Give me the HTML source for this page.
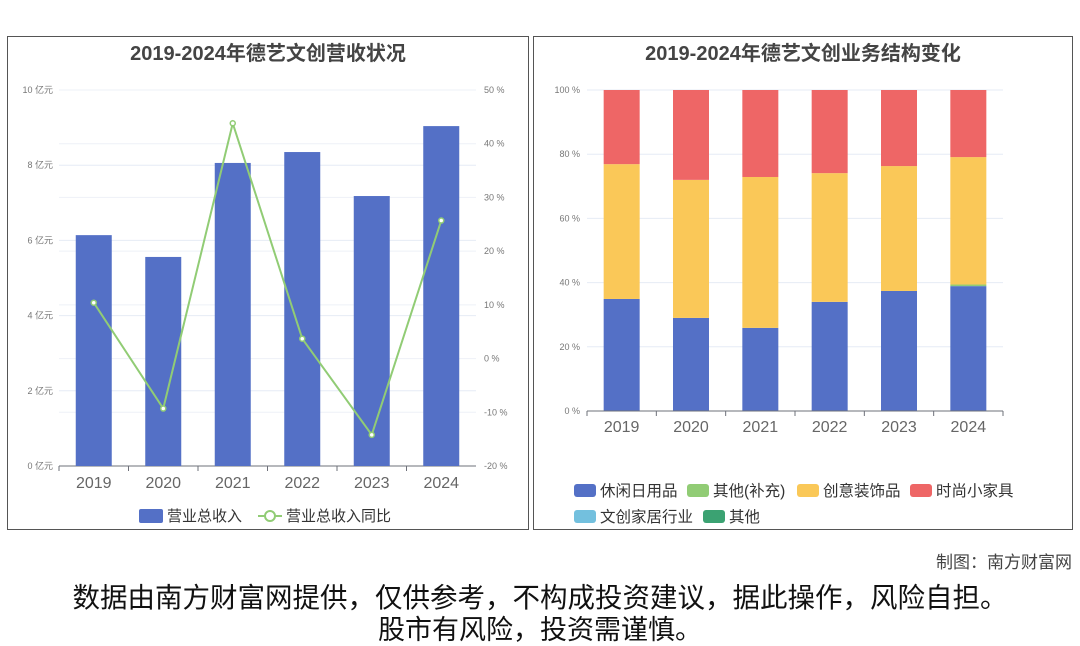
<!DOCTYPE html>
<html><head><meta charset="utf-8"><style>
body{margin:0;width:1080px;height:646px;background:#fff;overflow:hidden;font-family:"Liberation Sans","Noto Sans CJK SC",sans-serif;position:relative}
.panel{position:absolute;top:36px;height:494px;border:1px solid #555;box-sizing:border-box}
svg text{font-family:"Liberation Sans","Noto Sans CJK SC",sans-serif}
</style></head><body>
<div class="panel" style="left:7px;width:522px"></div>
<div class="panel" style="left:533px;width:540px"></div>
<svg id="c" width="1080" height="646" style="position:absolute;left:0;top:0">
<text x="268" y="60" text-anchor="middle" font-size="20" font-weight="bold" fill="#444">2019-2024年德艺文创营收状况</text>
<text x="803" y="60" text-anchor="middle" font-size="20" font-weight="bold" fill="#444">2019-2024年德艺文创业务结构变化</text>
<g id="L"></g><g id="R"></g>
<g>
<rect x="139" y="509" width="24" height="14" rx="2" fill="#5470c6"/>
<text x="167" y="521" font-size="15" fill="#333">营业总收入</text>
<line x1="258" y1="516" x2="282" y2="516" stroke="#91cc75" stroke-width="2"/><circle cx="270" cy="516" r="5" fill="#fff" stroke="#91cc75" stroke-width="2"/>
<text x="286" y="521" font-size="15" fill="#333">营业总收入同比</text>
</g>
<g id="RL"></g>
<text x="1072" y="568" text-anchor="end" font-size="17" fill="#444">制图：南方财富网</text>
<text x="540" y="607" text-anchor="middle" font-size="27.5" fill="#111">数据由南方财富网提供，仅供参考，不构成投资建议，据此操作，风险自担。</text>
<text x="540" y="639" text-anchor="middle" font-size="27" fill="#111">股市有风险，投资需谨慎。</text>
</svg>
<script>
const years=["2019","2020","2021","2022","2023","2024"];
const revenue=[6.14,5.56,8.06,8.35,7.18,9.04];
const yoy=[10.4,-9.3,43.8,3.7,-14.2,25.7];
const leftTicks=[0,2,4,6,8,10];
const rightTicks=[-20,-10,0,10,20,30,40,50];
const seriesNames=["休闲日用品","其他(补充)","创意装饰品","时尚小家具","文创家居行业","其他"];
const leisure=[34.9,29,25.9,34,37.4,38.9];
const otherSupp=[0,0,0,0,0,0.5];
const decor=[42,43,47,40.1,38.9,39.7];
const furniture=[23.1,28,27.1,25.9,23.7,20.9];
const homeInd=[0,0,0,0,0,0];
const other=[0,0,0,0,0,0];
const pctTicks=[0,20,40,60,80,100];
const colors=["#5470c6","#91cc75","#fac858","#ee6666","#73c0de","#3ba272"];
const NS="http://www.w3.org/2000/svg";
function mk(p,t,a,txt){const e=document.createElementNS(NS,t);for(const k in a)e.setAttribute(k,a[k]);if(txt!=null)e.textContent=txt;p.appendChild(e);return e;}
// left chart
const L=document.getElementById('L');
const lx0=59,lx1=476,ly0=466,ly1=90,band=(lx1-lx0)/years.length;
const yl=v=>ly0-(v/10)*(ly0-ly1);
const yr=v=>ly0-((v+20)/70)*(ly0-ly1);
const xc=i=>lx0+band*(i+0.5);
leftTicks.forEach(t=>{mk(L,'line',{x1:lx0,x2:lx1,y1:yl(t),y2:yl(t),stroke:'#e6ebf5'});
const e=mk(L,'text',{x:53,y:yl(t)+3,'text-anchor':'end','font-size':9,fill:'#777'},t+' 亿元');
});
rightTicks.forEach(t=>{mk(L,'line',{x1:lx0,x2:lx1,y1:yr(t),y2:yr(t),stroke:'#eef1f7'});
const e=mk(L,'text',{x:484,y:yr(t)+3,'font-size':9,fill:'#777'},t+' %');
});
mk(L,'line',{x1:lx0,x2:lx1,y1:ly0,y2:ly0,stroke:'#6e7079'});
years.forEach((y,i)=>{
const b=mk(L,'rect',{x:xc(i)-18,y:yl(revenue[i]),width:36,height:ly0-yl(revenue[i]),fill:'#5470c6'});

const t=mk(L,'text',{x:xc(i),y:488,'text-anchor':'middle','font-size':16,fill:'#666'},y);

mk(L,'line',{x1:lx0+band*i,x2:lx0+band*i,y1:ly0,y2:ly0+5,stroke:'#6e7079'});});
const ln=mk(L,'polyline',{points:yoy.map((v,i)=>xc(i)+','+yr(v)).join(' '),fill:'none',stroke:'#91cc75','stroke-width':2});

yoy.forEach((v,i)=>{const c=mk(L,'circle',{cx:xc(i),cy:yr(v),r:2.5,fill:'#fff',stroke:'#91cc75','stroke-width':1.5});
});
// right chart
const R=document.getElementById('R');
const rx0=587,rx1=1003,ry0=411,ry1=90,rb=(rx1-rx0)/years.length;
const yp=v=>ry0-(v/100)*(ry0-ry1);
pctTicks.forEach(t=>{mk(R,'line',{x1:rx0,x2:rx1,y1:yp(t),y2:yp(t),stroke:'#e6ebf5'});
const e=mk(R,'text',{x:580,y:yp(t)+3,'text-anchor':'end','font-size':9,fill:'#777'},t+' %');
});
const series=[leisure,otherSupp,decor,furniture,homeInd,other];
years.forEach((y,i)=>{let acc=0;const cx=rx0+rb*(i+0.5);
series.forEach((s,k)=>{const v=s[i];if(v>0){const r=mk(R,'rect',{x:cx-18,y:yp(acc+v),width:36,height:yp(acc)-yp(acc+v),fill:colors[k]});
}acc+=v;});
const t=mk(R,'text',{x:cx,y:432,'text-anchor':'middle','font-size':16,fill:'#666'},y);

mk(R,'line',{x1:rx0+rb*i,x2:rx0+rb*i,y1:ry0,y2:ry0+5,stroke:'#6e7079'});});
mk(R,'line',{x1:rx1,x2:rx1,y1:ry0,y2:ry0+5,stroke:'#6e7079'});
mk(R,'line',{x1:rx0,x2:rx1,y1:ry0,y2:ry0,stroke:'#6e7079'});
// right legend
const RL=document.getElementById('RL');
const lp=[[574,491],[687,491],[797,491],[910,491],[574,517],[703,517]];
seriesNames.forEach((n,k)=>{const [x,y]=lp[k];
const s=mk(RL,'rect',{x:x,y:y-7,width:22,height:13,rx:3,fill:colors[k]});

const t=mk(RL,'text',{x:x+26,y:y+5,'font-size':15.5,fill:'#333'},n);
});
</script>
</body></html>
